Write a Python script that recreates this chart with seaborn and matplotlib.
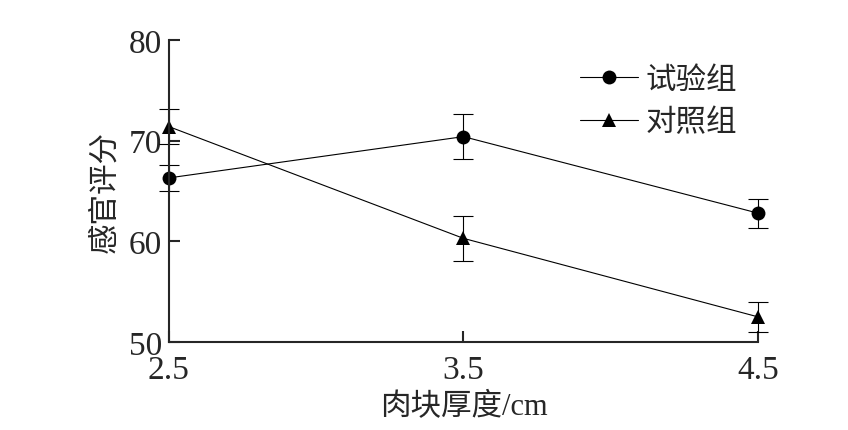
import numpy as np
import pandas as pd
import matplotlib
matplotlib.use("Agg")
import matplotlib.pyplot as plt
import seaborn as sns

# ---- data ----
thickness = [2.5, 3.5, 4.5]
test_mean = [66.3, 70.4, 62.8]
test_err = [1.3, 2.2, 1.45]
ctrl_mean = [71.4, 60.3, 52.5]
ctrl_err = [1.7, 2.2, 1.5]
groups = ["试验组", "对照组"]

df = pd.DataFrame({
    "厚度": thickness * 2,
    "评分": test_mean + ctrl_mean,
    "组": [groups[0]] * 3 + [groups[1]] * 3,
})

sns.set_style("ticks")
plt.rcParams["font.family"] = ["Liberation Serif", "Noto Sans CJK SC"]
plt.rcParams["axes.unicode_minus"] = False

fig = plt.figure(figsize=(8.48, 4.31), dpi=100)
ax = fig.add_axes([0.199, 0.204, 0.695, 0.701])

sns.lineplot(data=df, x="厚度", y="评分", hue="组", style="组",
             markers={groups[0]: "o", groups[1]: "^"}, dashes=False,
             palette={groups[0]: "black", groups[1]: "black"},
             linewidth=0.8, markersize=10, markeredgewidth=0, ax=ax)
for line in ax.lines:
    line.set_clip_on(False)

for m, e in [(test_mean, test_err), (ctrl_mean, ctrl_err)]:
    ax.errorbar(thickness, m, yerr=e, fmt="none", ecolor="black",
                elinewidth=0.8, capsize=7, capthick=0.8, clip_on=False)

ax.set_xlim(2.5, 4.5)
ax.set_ylim(50, 80)
ax.set_xticks(thickness)
ax.set_xticklabels(["2.5", "3.5", "4.5"])
ax.set_yticks([50, 60, 70, 80])
ax.tick_params(direction="in", length=8, width=1.5, labelsize=24)
ax.tick_params(axis="x", pad=9)
ax.tick_params(axis="y", pad=5)
for s in ["top", "right"]:
    ax.spines[s].set_visible(False)
for s in ["left", "bottom"]:
    ax.spines[s].set_linewidth(1.5)

ax.set_xlabel("肉块厚度/cm", fontsize=22, labelpad=5)
ax.set_ylabel("感官评分", fontsize=22, labelpad=6)

leg = ax.legend(loc="upper right", bbox_to_anchor=(0.985, 0.955), frameon=False,
                fontsize=22, handlelength=1.9, handletextpad=0.25,
                labelspacing=0.45, borderaxespad=0)
for line in leg.get_lines():
    line.set_linewidth(0.8)

fig.savefig("out.png", dpi=100)
